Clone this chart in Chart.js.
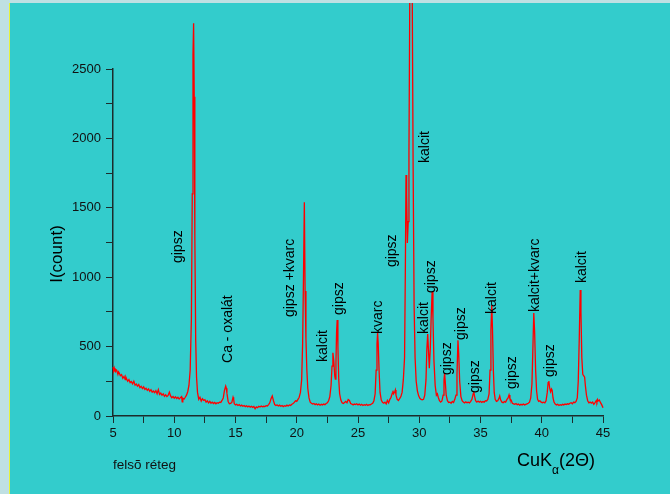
<!DOCTYPE html>
<html>
<head>
<meta charset="utf-8">
<title>felsõ réteg</title>
<script src="https://cdn.jsdelivr.net/npm/chart.js@4/dist/chart.umd.min.js"></script>
<style>
  html, body { margin: 0; padding: 0; background: #bfe0e3; }
  #wrap { position: absolute; left: 9px; top: 3px; border-left: 1px solid #e8f23c; background: #33cccc; }
  canvas { display: block; }
</style>
</head>
<body>
<div id="wrap"><canvas id="xrd" width="660" height="491"></canvas></div>
<script>
// diffractogram, [2theta, counts]
const scan5to11 = [
  [5.0,352],[5.05,330],[5.1,345],[5.15,322],[5.2,318],[5.25,334],[5.3,330],[5.4,300],[5.45,318],[5.5,312],[5.6,290],[5.7,298],[5.8,272],
  [5.9,285],[6.0,262],[6.05,280],[6.1,270],[6.2,250],[6.3,262],[6.4,240],[6.5,248],[6.6,232],[6.7,250],[6.8,222],
  [6.9,230],[7.0,215],[7.1,226],[7.2,205],[7.3,214],[7.4,198],[7.5,210],[7.6,192],[7.7,200],[7.8,185],
  [7.9,195],[8.0,178],[8.1,190],[8.2,172],[8.3,180],[8.4,168],[8.5,182],[8.6,160],[8.7,190],[8.8,155],
  [8.9,165],[9.0,150],[9.1,160],[9.2,142],[9.3,152],[9.4,140],[9.5,148],[9.6,172],[9.7,145],[9.8,132],
  [9.9,140],[10.0,128],[10.1,138],[10.2,126],[10.3,135],[10.4,122],[10.5,132],[10.6,140],[10.65,102],[10.7,128],
  [10.8,122],[10.9,135],[11.0,150]
];
const scan11to20 = [
  [11.1,175],[11.2,220],[11.3,330],[11.4,700],[11.47,1600],[11.53,2600],[11.58,2830],[11.63,2300],[11.68,1300],[11.75,550],
  [11.82,280],[11.9,170],[12.0,120],[12.1,135],[12.2,108],[12.3,125],[12.4,112],[12.5,118],[12.6,100],[12.7,110],
  [12.8,95],[12.9,105],[13.0,92],[13.1,100],[13.2,90],[13.3,98],[13.4,88],[13.5,96],[13.6,92],[13.7,100],
  [13.8,98],[13.9,112],[14.0,130],[14.1,185],[14.2,215],[14.25,200],[14.3,165],[14.4,105],[14.5,88],[14.6,90],
  [14.7,98],[14.8,135],[14.85,120],[14.9,88],[15.0,80],[15.1,85],[15.2,76],[15.3,82],[15.4,72],[15.5,78],
  [15.6,70],[15.7,76],[15.8,68],[15.9,74],[16.0,66],[16.1,72],[16.2,64],[16.3,70],[16.4,62],[16.5,68],
  [16.6,52],[16.7,66],[16.8,60],[16.9,70],[17.0,65],[17.1,72],[17.2,66],[17.3,70],[17.4,68],[17.5,74],
  [17.6,72],[17.7,82],[17.8,95],[17.9,125],[18.0,145],[18.1,110],[18.2,82],[18.3,76],[18.4,80],[18.5,72],
  [18.6,78],[18.7,70],[18.8,76],[18.9,68],[19.0,74],[19.1,70],[19.2,78],[19.3,72],[19.4,80],[19.5,76],
  [19.6,85],[19.7,90],[19.8,98],[19.9,110],[20.0,105]
];
const scan20to29 = [
  [20.1,120],[20.2,135],[20.3,170],[20.4,260],[20.48,520],[20.55,1000],[20.62,1540],[20.68,900],[20.75,560],[20.82,340],
  [20.9,200],[21.0,130],[21.1,100],[21.2,92],[21.3,86],[21.4,90],[21.5,82],[21.6,88],[21.7,80],[21.8,86],
  [21.9,78],[22.0,84],[22.1,80],[22.2,86],[22.3,82],[22.4,90],[22.5,95],[22.6,110],[22.7,140],[22.8,220],
  [22.88,360],[22.95,456],[23.02,400],[23.1,290],[23.15,266],[23.2,380],[23.25,600],[23.3,692],[23.36,500],[23.43,260],
  [23.5,160],[23.6,115],[23.7,95],[23.8,90],[23.9,98],[24.0,105],[24.1,95],[24.2,118],[24.3,112],[24.4,90],
  [24.5,86],[24.6,80],[24.7,86],[24.8,82],[24.9,88],[25.0,80],[25.1,86],[25.2,78],[25.3,84],[25.4,76],
  [25.5,82],[25.6,78],[25.7,84],[25.8,76],[25.9,82],[26.0,80],[26.1,86],[26.2,92],[26.3,110],[26.4,160],
  [26.48,330],[26.55,520],[26.6,597],[26.65,520],[26.72,330],[26.8,170],[26.9,115],[27.0,98],[27.1,92],[27.2,100],
  [27.3,88],[27.4,112],[27.5,95],[27.6,120],[27.7,135],[27.8,165],[27.85,182],[27.9,160],[28.0,175],[28.05,188],
  [28.1,150],[28.2,120],[28.3,112],[28.4,125],[28.5,140],[28.6,170]
];
const scan29to33 = [
  [28.7,260],[28.8,420],[28.86,1000],[28.92,1736],[28.97,1600],[29.03,1246],[29.1,1400],[29.16,1900],[29.22,2900],[29.33,4300],
  [29.43,3000],[29.5,1800],[29.58,800],[29.66,420],[29.75,250],[29.85,180],[29.95,145],[30.05,128],[30.15,120],[30.25,116],
  [30.35,120],[30.45,150],[30.55,260],[30.62,480],[30.69,590],[30.75,480],[30.82,345],[30.9,480],[30.97,700],[31.05,895],
  [31.12,700],[31.2,400],[31.3,220],[31.4,150],[31.48,160],[31.55,135],[31.65,110],[31.75,100],[31.85,108],[31.95,150],
  [32.02,260],[32.07,310],[32.12,250],[32.2,150],[32.3,110],[32.4,98],[32.5,100],[32.6,92],[32.7,105],[32.8,98],
  [32.9,120]
];
const scan33to45 = [
  [33.0,150],[33.08,300],[33.16,545],[33.22,450],[33.3,250],[33.4,140],[33.5,110],[33.6,100],[33.7,94],[33.8,102],
  [33.9,96],[34.0,100],[34.1,95],[34.2,105],[34.3,120],[34.4,160],[34.45,175],[34.52,140],[34.6,110],[34.7,100],
  [34.8,108],[34.9,100],[35.0,106],[35.1,98],[35.2,104],[35.3,100],[35.4,110],[35.5,108],[35.6,120],[35.7,160],
  [35.78,330],[35.85,620],[35.92,800],[35.98,620],[36.05,330],[36.12,170],[36.2,120],[36.3,105],[36.4,110],[36.5,125],
  [36.57,145],[36.65,115],[36.75,100],[36.85,96],[36.95,104],[37.05,100],[37.15,118],[37.25,130],[37.33,152],[37.4,125],
  [37.5,115],[37.6,92],[37.7,88],[37.8,84],[37.9,90],[38.0,82],[38.1,86],[38.2,78],[38.3,84],[38.4,80],
  [38.5,86],[38.6,80],[38.7,84],[38.8,88],[38.9,92],[39.0,100],[39.1,130],[39.2,230],[39.28,500],[39.35,742],
  [39.42,600],[39.5,330],[39.58,180],[39.66,120],[39.75,105],[39.85,110],[39.95,100],[40.05,96],[40.15,100],[40.25,95],
  [40.35,110],[40.45,170],[40.52,240],[40.58,252],[40.65,200],[40.72,175],[40.8,195],[40.85,185],[40.92,130],[41.0,100],
  [41.1,86],[41.2,80],[41.3,84],[41.4,76],[41.5,82],[41.6,78],[41.7,84],[41.8,80],[41.9,86],[42.0,82],
  [42.1,88],[42.2,84],[42.3,92],[42.4,96],[42.5,88],[42.6,100],[42.7,96],[42.8,105],[42.9,130],[42.98,250],
  [43.06,550],[43.14,908],[43.2,750],[43.27,420],[43.35,300],[43.42,290],[43.5,280],[43.56,220],[43.65,150],[43.75,110],
  [43.85,95],[43.95,100],[44.05,92],[44.15,100],[44.25,84],[44.35,96],[44.45,110],[44.5,100],[44.55,118],[44.6,108],
  [44.7,115],[44.8,96],[44.9,80],[45.0,60]
];

// phase labels: text, 2theta, count where the text starts
const phaseNames = ['gipsz','Ca - oxalát','gipsz +kvarc','kalcit','gipsz','kvarc','gipsz','kalcit','kalcit','gipsz',
  'gipsz','gipsz','gipsz','kalcit','gipsz','kalcit+kvarc','gipsz','kalcit'];
const phaseAt = [10.3,14.4,19.45,22.14,23.45,26.63,27.78,30.5,30.39,30.96,32.27,33.45,34.55,35.91,37.55,39.45,40.67,43.26];
const phaseCount = [1102,382,713,389,728,591,1073,1823,591,886,295,548,166,735,195,749,281,958];

const yTicksMajor = 500;
const xTicksMajor = 5;

const font = '"Liberation Sans", Arial, sans-serif';
const axisColor = '#1c2c2c';

const textPlugin = {
  id: 'texts',
  afterDatasetsDraw(chart) {
    const { ctx, chartArea, scales } = chart;
    ctx.save();
    ctx.fillStyle = '#000';
    ctx.font = '14px ' + font;
    ctx.textAlign = 'left';
    ctx.textBaseline = 'middle';
    phaseNames.forEach((name, i) => {
      const px = scales.x.getPixelForValue(phaseAt[i]);
      const py = scales.y.getPixelForValue(phaseCount[i]);
      ctx.save();
      ctx.translate(px, py);
      ctx.rotate(-Math.PI / 2);
      ctx.fillText(name, 0, 0);
      ctx.restore();
    });

    // y title
    ctx.save();
    ctx.font = '17px ' + font;
    ctx.textAlign = 'center';
    ctx.translate(chartArea.left - 56, chartArea.top + 185);
    ctx.rotate(-Math.PI / 2);
    ctx.fillText('I(count)', 0, 0);
    ctx.restore();

    // x title CuKα(2Θ)
    ctx.textBaseline = 'alphabetic';
    let x = chartArea.left + 404;
    const base = chartArea.bottom + 50;
    ctx.font = '18px ' + font;
    ctx.fillText('CuK', x, base);
    x += ctx.measureText('CuK').width;
    ctx.font = '12px ' + font;
    ctx.fillText('α', x, base + 8);
    x += ctx.measureText('α').width;
    ctx.font = '18px ' + font;
    ctx.fillText('(2Θ)', x, base);

    ctx.font = '13.5px ' + font;
    ctx.fillStyle = '#111';
    ctx.fillText('felsõ réteg', chartArea.left, chartArea.bottom + 53);
    ctx.restore();
  }
};

new Chart(document.getElementById('xrd'), {
  type: 'line',
  data: {
    datasets: [{
      data: [].concat(scan5to11, scan11to20, scan20to29, scan29to33, scan33to45),
      borderColor: '#ff0000',
      borderWidth: 1.3,
      pointRadius: 0,
      tension: 0,
      fill: false,
      clip: false
    }]
  },
  options: {
    responsive: false,
    animation: false,
    layout: { padding: { left: 0, top: 66, right: 67, bottom: 0 } },
    plugins: { legend: { display: false }, tooltip: { enabled: false } },
    scales: {
      x: {
        type: 'linear',
        min: 5, max: 45,
        afterFit(s) { s.height = 78; },
        ticks: {
          stepSize: 2.5,
          autoSkip: false,
          maxRotation: 0,
          padding: 3,
          color: '#111',
          font: { family: font, size: 13 },
          callback: v => (v % xTicksMajor === 0 ? String(v) : '')
        },
        grid: { drawOnChartArea: false, drawTicks: true, tickLength: 7, tickColor: axisColor, tickWidth: 1 },
        border: { display: true, color: axisColor, width: 1.5 }
      },
      y: {
        min: 0, max: 2500,
        afterFit(s) { s.width = 103; },
        ticks: {
          stepSize: 250,
          autoSkip: false,
          padding: 5,
          color: '#111',
          font: { family: font, size: 13 },
          callback: v => (v % yTicksMajor === 0 ? String(v) : '')
        },
        grid: { drawOnChartArea: false, drawTicks: true, tickLength: 7, tickColor: axisColor, tickWidth: 1 },
        border: { display: true, color: axisColor, width: 1.5 }
      }
    }
  },
  plugins: [textPlugin]
});
</script>
</body>
</html>
